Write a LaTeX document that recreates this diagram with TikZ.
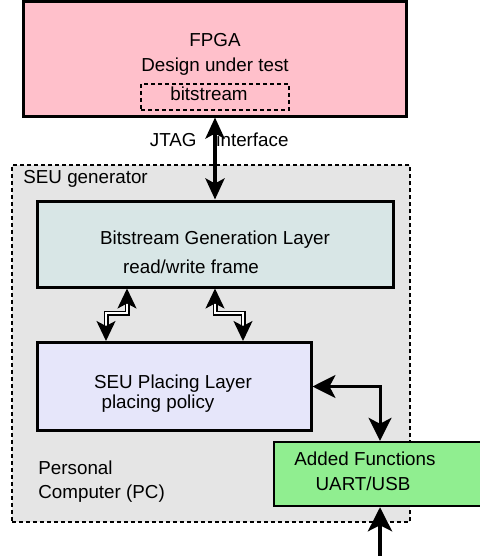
\documentclass[tikz,border=0pt]{standalone}
\usepackage{fontspec}
\setmainfont{Liberation Sans}
\usetikzlibrary{arrows.meta}
\definecolor{fpgapink}{RGB}{255,192,203}
\definecolor{genfill}{RGB}{216,230,230}
\definecolor{placefill}{RGB}{230,230,250}
\definecolor{addfill}{RGB}{144,238,144}
\definecolor{pcgray}{RGB}{229,229,229}
\tikzset{x=0.5pt, y=-0.5pt}

\begin{document}
\begin{tikzpicture}[
  every node/.style={font=\fontsize{9.4}{11}\selectfont},
  layer/.style={draw, line width=1.5pt, inner sep=0pt},
  dashbox/.style={draw, line width=1.4pt, dash pattern=on 2pt off 1.5pt, inner sep=0pt},
  lbl/.style={inner sep=0pt, text height=7pt, text depth=2pt},
  bigtip/.style={Stealth[length=10.5pt,width=9.5pt,inset=2.5pt]},
  bus/.style={{Stealth[length=10.5pt,width=9.5pt,inset=2.5pt]}-{Stealth[length=10.5pt,width=9.5pt,inset=2.5pt]}, line width=2pt},
  zig/.style={{Stealth[length=10pt,width=9.5pt,inset=2.5pt]}-{Stealth[length=10pt,width=9.5pt,inset=2.5pt]}, line width=0.9pt, double=white, double distance=0.7pt},
  link/.style={{Stealth[length=11.5pt,width=11.5pt,inset=3pt]}-{Stealth[length=11.5pt,width=11.5pt,inset=3pt]}, line width=1.5pt}
]
\useasboundingbox (0,0) rectangle (480,556);
% PC area
\node[dashbox, fill=pcgray, minimum width=199pt, minimum height=178.5pt] (pc) at (211,343.5) {};
\node[lbl, anchor=west] (pcname) at (23,178) {SEU generator};
\node[lbl, anchor=west] (pc1) at (38,469) {Personal};
\node[lbl, anchor=west] (pc2) at (38,493) {Computer (PC)};
% FPGA
\node[layer, fill=fpgapink, minimum width=191.5pt, minimum height=57pt] (fpga) at (215,59) {};
\node[lbl] (fpga1) at (215,42) {FPGA};
\node[lbl] (fpga2) at (215,67) {Design under test};
\node[dashbox, line width=1.3pt, minimum width=74pt, minimum height=13pt] (bits) at (215,97) {};
\node[lbl] (bits1) at (209,96) {bitstream};
% layers
\node[layer, fill=genfill, minimum width=178pt, minimum height=43pt] (gen) at (215,244) {};
\node[lbl] (gen1) at (215,239) {Bitstream Generation Layer};
\node[lbl] (gen2) at (191,268) {read/write frame};
\node[layer, fill=placefill, minimum width=137pt, minimum height=44pt] (spl) at (174,386.5) {};
\node[lbl] (spl1) at (173,383) {SEU Placing Layer};
\node[lbl] (spl2) at (158,403) {placing policy};
\node[draw, line width=1.2pt, fill=addfill, minimum width=106pt, minimum height=32pt] (af) at (380,474) {};
\node[lbl] (af1) at (365,460) {Added Functions};
\node[lbl] (af2) at (363,485) {UART/USB};
% connectors
\node[lbl, anchor=east] (jtag) at (197,142) {JTAG};
\node[lbl, anchor=west] (jtag2) at (216,142) {interface};
\draw[bus] (fpga.south) -- (gen.north);
\foreach \a/\b in {127/106, 215/243}{ % edit here for the zig-zags
\draw[zig] (gen.south -| \a,0) |- (\b,313) -- (spl.north -| \b,0);}
\draw[link] (spl.east) -| (af.north);
\coordinate (usb) at (380,560);
\draw[line width=2pt, {Stealth[length=12pt,width=12pt,inset=3pt]}-] (af.south) -- (usb);
\end{tikzpicture}
\end{document}
